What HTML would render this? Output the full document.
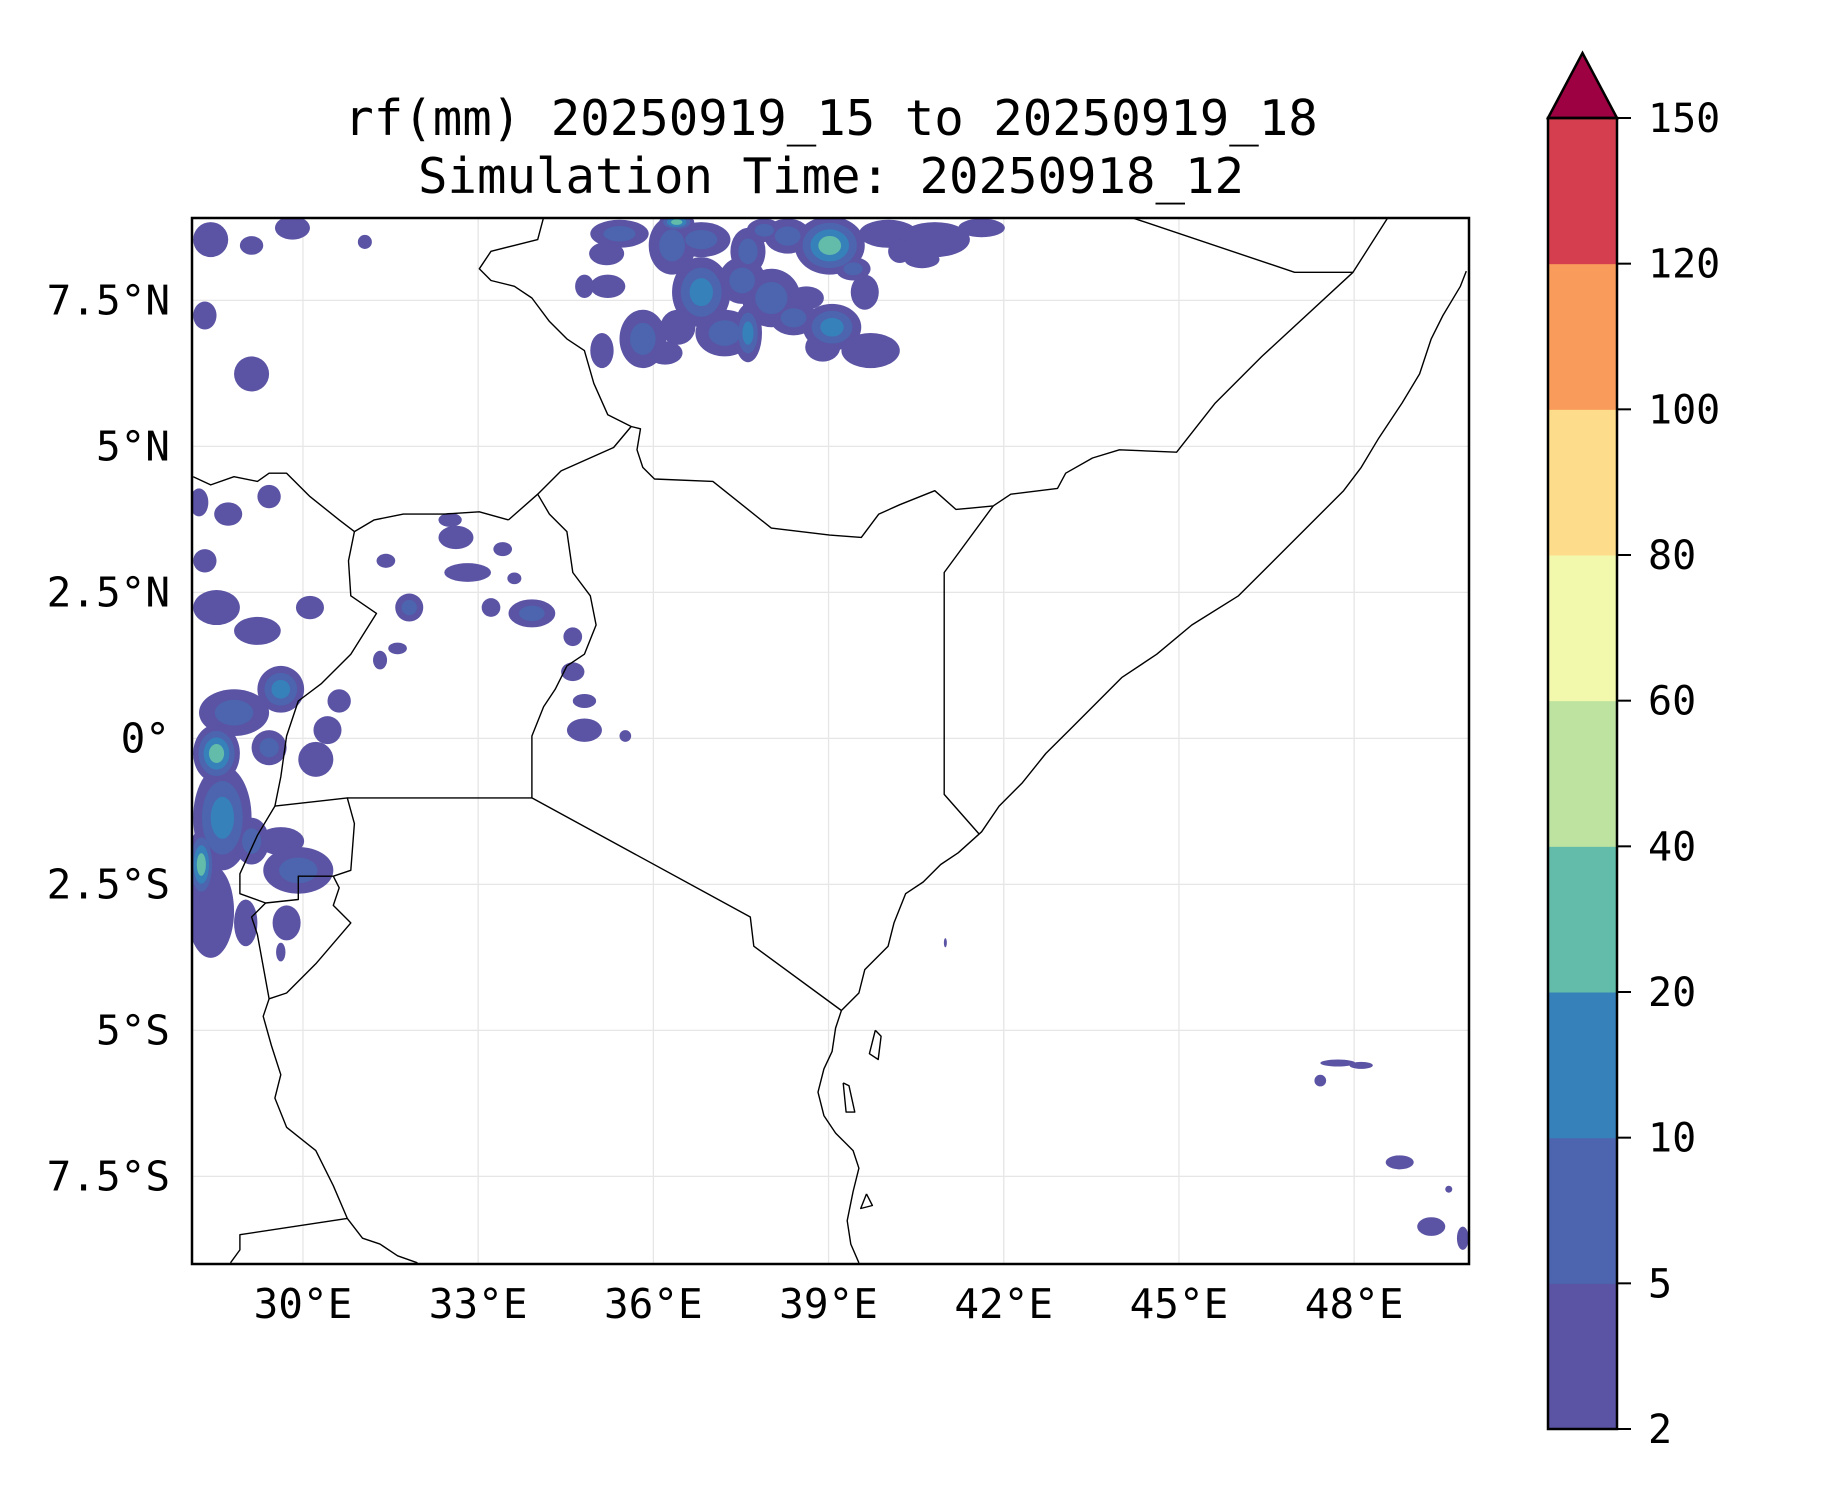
<!DOCTYPE html>
<html><head><meta charset="utf-8"><title>rf(mm) map</title>
<style>
html,body{margin:0;padding:0;background:#fff;}
svg{display:block;}
text{font-family:"DejaVu Sans Mono","Liberation Mono",monospace;fill:#000;}
</style></head>
<body>
<svg id="chart" width="1833" height="1500" viewBox="0 0 1833 1500" xmlns="http://www.w3.org/2000/svg">
<text x="831" y="135" font-size="49" text-anchor="middle">rf(mm) 20250919_15 to 20250919_18</text>
<text x="831" y="193" font-size="49" text-anchor="middle">Simulation Time: 20250918_12</text>
<defs><clipPath id="mapclip"><rect x="192" y="218" width="1277" height="1046"/></clipPath></defs>
<g id="grid"></g>
<g id="rain" clip-path="url(#mapclip)"></g>
<g id="borders" clip-path="url(#mapclip)"></g>
<rect x="192" y="218" width="1277" height="1046" fill="none" stroke="#000" stroke-width="2.5"/>
<g id="xticks"></g>
<g id="yticks"></g>
<g id="cbar"></g>
</svg>
<script>
const lonTicks=[30,33,36,39,42,45,48];
const lonLabels=["30°E","33°E","36°E","39°E","42°E","45°E","48°E"];
const latTicks=[7.5,5,2.5,0,-2.5,-5,-7.5];
const latLabels=["7.5°N","5°N","2.5°N","0°","2.5°S","5°S","7.5°S"];
const levels=[2,5,10,20,40,60,80,100,120,150];
const levelColors=["#5b53a4","#4c65ae","#3681b9","#62bca9","#bee3a0","#f3f9ac","#fddd8c","#f99c5b","#d53e4f"];
const extendColor="#9e0142";
// rain blobs: [lon, lat, rxDeg, ryDeg, maxLevelIndex]
const rainNorth=[[35.42,8.64,.5,.24,1],[36.32,8.44,.4,.5,1],[36.82,8.54,.5,.3,1],[37.62,8.34,.3,.4,1],[39.02,8.44,.6,.5,3],[40.02,8.64,.5,.24,0],[40.82,8.54,.6,.3,0],[41.62,8.74,.4,.16,0],[35.22,7.74,.3,.2,0],[36.82,7.64,.5,.6,2],[37.52,7.84,.4,.4,1],[38.02,7.54,.5,.5,1],[37.22,6.94,.5,.4,1],[35.82,6.84,.4,.5,1],[36.42,7.04,.3,.3,0],[35.12,6.64,.2,.3,0],[37.62,6.94,.24,.5,2],[39.06,7.04,.5,.4,2],[39.72,6.64,.5,.3,0],[39.62,7.64,.24,.3,0],[38.62,7.54,.3,.2,0],[40.22,8.34,.2,.2,0],[39.42,8.04,.3,.2,1],[34.82,7.74,.16,.2,0],[36.4,8.84,.3,.15,3],[38.3,8.6,.4,.3,1],[38.4,7.2,.4,.3,1],[38.9,6.7,.3,.25,0],[36.2,6.6,.3,.2,0],[35.2,8.3,.3,.2,0],[40.6,8.2,.3,.15,0],[37.9,8.7,.3,.2,1]];
const rainUganda=[[32.62,3.44,.3,.2,0],[32.82,2.84,.4,.16,0],[33.42,3.24,.16,.12,0],[31.82,2.24,.24,.24,1],[33.92,2.14,.4,.24,1],[34.62,1.74,.16,.16,0],[34.62,1.14,.2,.16,0],[34.82,0.14,.3,.2,0],[35.52,0.04,.1,.1,0],[31.42,3.04,.16,.12,0],[31.32,1.34,.12,.16,0],[31.62,1.54,.16,.1,0],[33.22,2.24,.16,.16,0],[33.62,2.74,.12,.1,0],[32.52,3.74,.2,.12,0],[34.82,0.64,.2,.12,0]];
const rainWest=[[28.42,8.54,.3,.3,0],[29.12,8.44,.2,.16,0],[29.82,8.74,.3,.2,0],[31.06,8.5,.12,.12,0],[28.32,7.24,.2,.24,0],[29.12,6.24,.3,.3,0],[28.22,4.04,.16,.24,0],[28.72,3.84,.24,.2,0],[29.42,4.14,.2,.2,0],[28.32,3.04,.2,.2,0],[28.52,2.24,.4,.3,0],[29.22,1.84,.4,.24,0],[30.12,2.24,.24,.2,0],[29.62,0.84,.4,.4,2],[28.82,0.44,.6,.4,1],[28.52,-0.26,.4,.5,3],[29.42,-0.16,.3,.3,1],[30.22,-0.36,.3,.3,0],[28.62,-1.36,.5,.9,2],[29.62,-1.76,.4,.24,0],[29.92,-2.26,.6,.4,1],[29.12,-1.76,.3,.4,1],[28.42,-2.96,.4,.8,0],[29.02,-3.16,.2,.4,0],[29.72,-3.16,.24,.3,0],[29.62,-3.66,.08,.16,0],[30.62,0.64,.2,.2,0],[30.42,0.14,.24,.24,0],[28.26,-2.16,.24,.6,3]];
const rainOcean=[[48.78,-7.26,.24,.12,0],[49.32,-8.36,.24,.16,0],[47.42,-5.86,.1,.1,0],[47.72,-5.56,.3,.06,0],[48.12,-5.6,.2,.06,0],[49.86,-8.56,.1,.2,0],[49.62,-7.72,.06,.06,0],[41.0,-3.5,.02,.08,0]];
// borders (lon,lat)
const coastline=[[49.92,8.0],[49.82,7.74],[49.52,7.24],[49.32,6.84],[49.12,6.24],[48.82,5.74],[48.42,5.14],[48.12,4.64],[47.82,4.24],[47.22,3.64],[46.62,3.04],[46.02,2.44],[45.22,1.94],[44.62,1.44],[44.02,1.04],[43.62,0.64],[43.12,0.14],[42.72,-0.26],[42.32,-0.76],[41.92,-1.16],[41.62,-1.6],[41.22,-1.96],[40.92,-2.16],[40.62,-2.46],[40.32,-2.66],[40.12,-3.16],[40.02,-3.56],[39.62,-3.96],[39.52,-4.36],[39.22,-4.66],[39.12,-4.96],[39.06,-5.36],[38.92,-5.66],[38.82,-6.06],[38.92,-6.46],[39.12,-6.76],[39.42,-7.06],[39.52,-7.36],[39.42,-7.76],[39.32,-8.26],[39.38,-8.66],[39.52,-8.98]];
const ethSomNorth=[[48.58,8.92],[47.98,7.98],[46.98,7.98],[44.18,8.92]];
const ethSouthLine=[[47.98,7.98],[46.42,6.54],[45.62,5.74],[44.96,4.9],[43.98,4.94],[43.52,4.8],[43.06,4.54],[42.92,4.28],[42.12,4.18],[41.82,3.98],[41.42,3.94],[41.18,3.92],[40.82,4.24],[40.22,4.0],[39.86,3.84],[39.56,3.44],[39.02,3.48],[38.52,3.54],[38.02,3.6],[37.02,4.4],[36.02,4.44],[35.82,4.64],[35.72,4.94],[35.78,5.3],[35.62,5.34],[35.22,5.54],[34.98,6.08],[34.82,6.64],[34.52,6.84],[34.22,7.14],[33.92,7.54],[33.62,7.74],[33.22,7.84],[33.02,8.04],[33.22,8.34],[33.62,8.44],[34.02,8.54],[34.12,8.92]];
const kenSom=[[41.82,3.98],[40.98,2.84],[40.98,-0.96],[41.58,-1.64]];
const kenNorth=[[35.62,5.34],[35.32,4.98],[34.42,4.58],[34.02,4.18],[33.52,3.74]];
const kenUga=[[34.02,4.18],[34.22,3.84],[34.52,3.54],[34.62,2.84],[34.92,2.44],[35.02,1.94],[34.82,1.44],[34.52,1.24],[34.32,0.84],[34.12,0.54],[33.92,0.04],[33.92,-1.02],[37.66,-3.06],[37.72,-3.56],[39.22,-4.66]];
const ugaTza=[[30.76,-1.02],[33.92,-1.02]];
const ugaSsd=[[33.52,3.74],[33.02,3.88],[32.42,3.84],[31.72,3.84],[31.22,3.74],[30.88,3.54],[30.62,3.74],[30.12,4.14],[29.72,4.54],[29.42,4.54],[29.22,4.4],[28.82,4.48],[28.42,4.34],[28.12,4.48]];
const ugaDrc=[[30.88,3.54],[30.78,3.04],[30.82,2.44],[31.26,2.14],[30.82,1.44],[30.32,0.94],[29.92,0.64],[29.72,0.04],[29.62,-0.66],[29.52,-1.16]];
const rwanda=[[29.52,-1.16],[30.42,-1.06],[30.76,-1.02],[30.88,-1.46],[30.82,-2.26],[30.52,-2.36],[29.92,-2.36],[29.92,-2.76],[29.36,-2.82],[28.92,-2.66],[28.92,-2.32],[29.22,-1.66],[29.52,-1.16]];
const burundi=[[29.36,-2.82],[29.12,-3.06],[29.22,-3.36],[29.42,-4.46],[29.72,-4.36],[30.22,-3.86],[30.82,-3.16],[30.52,-2.86],[30.62,-2.56],[30.52,-2.36]];
const tanganyika=[[29.42,-4.46],[29.32,-4.76],[29.46,-5.26],[29.62,-5.76],[29.52,-6.16],[29.72,-6.66],[30.22,-7.06],[30.52,-7.66],[30.76,-8.22],[31.02,-8.56],[31.32,-8.66],[31.62,-8.86],[31.96,-8.98]];
const zambia=[[30.76,-8.22],[28.92,-8.5],[28.92,-8.76],[28.76,-8.98]];
const zanzibar=[[39.8,-5.0],[39.7,-5.4],[39.85,-5.5],[39.9,-5.1],[39.8,-5.0]];
const mafia=[[39.65,-7.8],[39.55,-8.05],[39.75,-8.0],[39.65,-7.8]];
const unguja=[[39.25,-5.9],[39.3,-6.4],[39.45,-6.4],[39.35,-5.95],[39.25,-5.9]];

const NS="http://www.w3.org/2000/svg";
const LON0=28.1, LAT0=8.91, PPD=58.4, X0=192, Y0=218;
function xs(lon){return X0+(lon-LON0)*PPD;}
function ys(lat){return Y0+(LAT0-lat)*PPD;}
function mk(tag,attrs,parent){const e=document.createElementNS(NS,tag);for(const k in attrs)e.setAttribute(k,attrs[k]);parent.appendChild(e);return e;}

const grid=document.getElementById('grid');
lonTicks.forEach(v=>{const l=mk('line',{x1:xs(v),x2:xs(v),y1:218,y2:1264,stroke:'#e6e6e6','stroke-width':1.3},grid);

});
latTicks.forEach(v=>{const l=mk('line',{x1:192,x2:1469,y1:ys(v),y2:ys(v),stroke:'#e6e6e6','stroke-width':1.3},grid);

});

const rain=document.getElementById('rain');
[rainWest,rainUganda,rainNorth,rainOcean].forEach(set=>{
  for(let lvl=0;lvl<=4;lvl++){
    set.forEach(b=>{
      if(b[4]<lvl)return;
      const f=1-lvl*0.9/(b[4]+1);
      const e=mk('ellipse',{cx:xs(b[0]),cy:ys(b[1]),rx:Math.max(1.5,b[2]*PPD*f),ry:Math.max(1.5,b[3]*PPD*f),fill:levelColors[lvl]},rain);
      
      
    });
  }
});

const borders=document.getElementById('borders');
[coastline,ethSomNorth,ethSouthLine,kenSom,kenNorth,kenUga,ugaTza,ugaSsd,ugaDrc,rwanda,burundi,tanganyika,zambia,zanzibar,mafia,unguja].forEach(line=>{
  const p=mk('polyline',{points:line.map(q=>xs(q[0]).toFixed(1)+','+ys(q[1]).toFixed(1)).join(' '),fill:'none',stroke:'#000','stroke-width':1.4,'stroke-linejoin':'round'},borders);
  
  
});

const xt=document.getElementById('xticks');
lonTicks.forEach((v,i)=>{const t=mk('text',{x:xs(v),y:1318,'font-size':41,'text-anchor':'middle'},xt);t.textContent=lonLabels[i];

});
const yt=document.getElementById('yticks');
latTicks.forEach((v,i)=>{const t=mk('text',{x:170,y:ys(v)+14,'font-size':41,'text-anchor':'end'},yt);t.textContent=latLabels[i];

});

const cb=document.getElementById('cbar');
const CBX=1548, CBW=69, CBT=118, CBB=1429;
const seg=(CBB-CBT)/(levels.length-1);
function cy(i){return CBB-i*seg;}
for(let i=0;i<levels.length-1;i++){
  const r=mk('rect',{x:CBX,y:cy(i+1),width:CBW,height:seg+0.5,fill:levelColors[i]},cb);
  
  
}
const tri=mk('polygon',{points:`${CBX},${CBT} ${CBX+CBW/2},53 ${CBX+CBW},${CBT}`,fill:extendColor,stroke:'#000','stroke-width':2.5,'stroke-linejoin':'miter'},cb);


const outl=mk('rect',{x:CBX,y:CBT,width:CBW,height:CBB-CBT,fill:'none',stroke:'#000','stroke-width':2.5},cb);


levels.forEach((v,i)=>{
  const l=mk('line',{x1:CBX+CBW,x2:CBX+CBW+14,y1:cy(i),y2:cy(i),stroke:'#000','stroke-width':2},cb);
  
  
  const t=mk('text',{x:1648,y:cy(i)+14,'font-size':40},cb);t.textContent=String(v);
  
  
});
</script>
</body></html>
